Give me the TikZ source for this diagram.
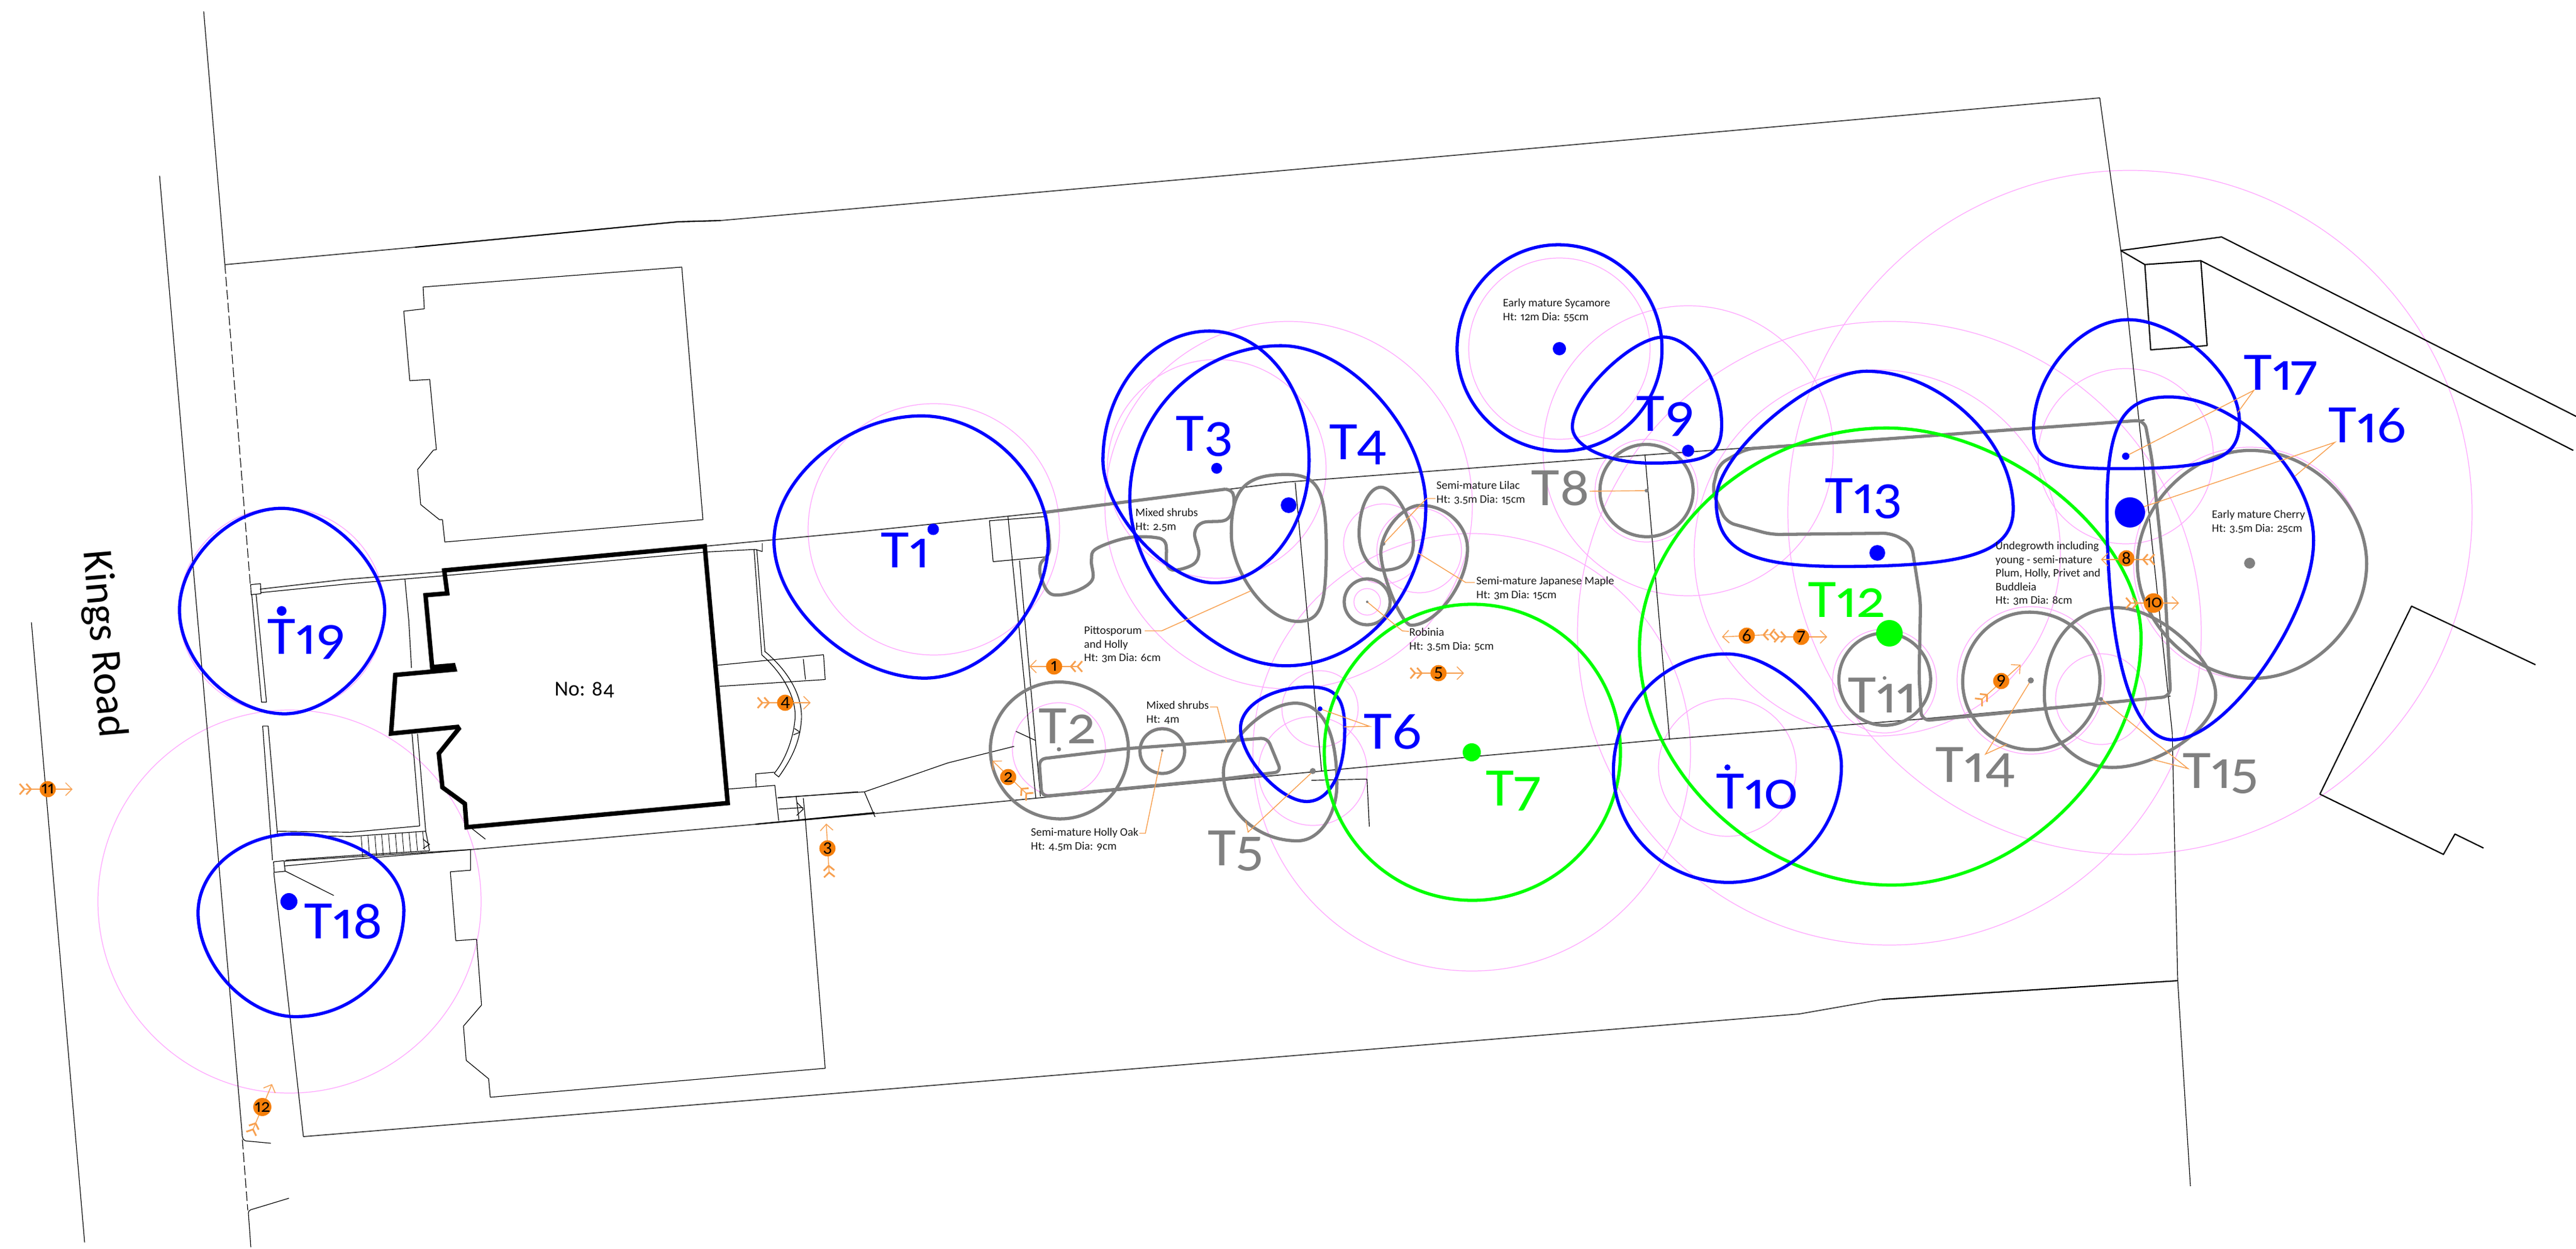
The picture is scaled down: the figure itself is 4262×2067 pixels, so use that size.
\documentclass[tikz,border=0pt]{standalone}
\usepackage{fontspec}
\setmainfont{Carlito}[Numbers={OldStyle,Proportional}]
\newfontfamily\treefont{Carlito}[Numbers={OldStyle,Proportional},FakeStretch=1.07]
\usetikzlibrary{arrows.meta}
\definecolor{tblue}{HTML}{0000FF}
\definecolor{tgreen}{HTML}{00FF00}
\definecolor{tgrey}{HTML}{808080}
\definecolor{tpink}{HTML}{FFA6FF}
\definecolor{mkor}{HTML}{F57F0A}
\definecolor{ldor}{HTML}{F7A050}
\tikzset{
  z1/.style={shift={(0,700)},x=0.009056cm,y=-0.008718cm},
  z2/.style={shift={(1250,500)},x=0.007653cm,y=-0.006378cm},
  z3/.style={shift={(2400,350)},x=0.008291cm,y=-0.007334cm},
  z4/.style={shift={(3300,350)},x=0.006135cm,y=-0.007015cm},
  thinl/.style={draw=black,line width=0.33pt,line join=round},
  medl/.style={draw=black,line width=0.6pt,line join=round},
  wall/.style={draw=black!75,line width=0.5pt,line join=round},
  house/.style={draw=black,line width=2.1pt,line join=miter},
  pinkc/.style={draw=tpink,line width=0.35pt},
  bluec/.style={draw=tblue,line width=1.5pt},
  greenc/.style={draw=tgreen,line width=1.5pt},
  greyc/.style={draw=tgrey,line width=1.5pt,line join=round},
  leader/.style={draw=ldor,line width=0.4pt,line join=miter},
  mkline/.style={draw=ldor,line width=0.4pt,
    arrows={{Straight Barb[reversed,length=2.2pt,width=5pt,line width=0.8pt,sep=-1.4pt]Straight Barb[reversed,length=2.2pt,width=5pt,line width=0.8pt]}-{Straight Barb[length=3pt,width=6pt]}}},
  mkdot/.style={circle,fill=mkor,inner sep=0pt,minimum size=7.6pt,text=black,font=\fontsize{8.6}{8.6}\selectfont},
  tlab/.style={anchor=base west,inner sep=0pt,font=\treefont\fontsize{25.5}{25.5}\selectfont},
  small/.style={anchor=north west,inner sep=0pt,align=left,text=black!90,font=\fontsize{5.4}{6.4}\selectfont},
}
\newcommand{\mk}[7]{%
  \coordinate (mt#1) at (#4,#5);\coordinate (mb#1) at (#6,#7);
  \draw[mkline] (mb#1) -- (mt#1);
  \node[mkdot] (m#1) at (#2,#3) {#1};}
\newcommand{\tl}[5]{\node[tlab,text=#2] (#1) at (#3,#4) {#5};}
\newcommand{\tdot}[4]{\fill[#1] (#2,#3) circle[radius=#4];}
% closed egg: extreme points top, right, bottom, left and a handle factor per quadrant
\def\blobdraw#1;#2,#3;#4,#5;#6,#7;#8,#9;{\def\blobstyle{#1}\def\Tx{#2}\def\Ty{#3}\def\Rx{#4}\def\Ry{#5}\def\Bx{#6}\def\By{#7}\def\Lx{#8}\def\Ly{#9}\blobfinish}
\def\blobfinish#1/#2/#3/#4!{%
  \draw[\blobstyle] (\Tx,\Ty)
   .. controls ({\Tx+#1*(\Rx-\Tx)},\Ty) and (\Rx,{\Ry-#1*(\Ry-\Ty)}) .. (\Rx,\Ry)
   .. controls (\Rx,{\Ry+#2*(\By-\Ry)}) and ({\Bx+#2*(\Rx-\Bx)},\By) .. (\Bx,\By)
   .. controls ({\Bx-#3*(\Bx-\Lx)},\By) and (\Lx,{\Ly+#3*(\By-\Ly)}) .. (\Lx,\Ly)
   .. controls (\Lx,{\Ly-#4*(\Ly-\Ty)}) and ({\Tx-#4*(\Tx-\Lx)},\Ty) .. (\Tx,\Ty) -- cycle;}
\begin{document}
\begin{tikzpicture}[x=0.01cm,y=-0.01cm]
\useasboundingbox (0,0) rectangle (4262,2067);
% ---- pink canopy circles
\foreach \cx/\cy/\r in {466/1010/170,479/1492/317,1545/876/208,2013/776/181,2132/836/304,
  2172/1276/90,2435/1245/362,2184/1173/63,1752/1240/77,1923/1242/38,2262/996/22,2289/900/66,
  2348/911/70,2580/577/150,2793/746/240,2724/812/85,2858/1270/114,3118/1127/86,3126/1048/516,
  3106/915/303,3360/1126/122,3476/1157/75,3524/848/566,3517/755/145,3722/932/192}
  \draw[pinkc] (\cx,\cy) circle[radius=\r];
% ---- site lines
\draw[thinl] (264,291) -- (299,700) -- (401,1881) .. controls (402,1885) and (403,1887) .. (406,1888) -- (448,1892);
\draw[thinl] (52,1030) -- (140,2056);
\draw[thinl] (337,19) -- (372,437);
\draw[thinl,dash pattern=on 4.5pt off 1.6pt] (372,437) -- (414,966);
\draw[thinl,dash pattern=on 4.5pt off 1.6pt] (401,1886) -- (410,2003);
\draw[thinl] (415,2064) -- (411,2008) .. controls (411,2004) and (413,2003) .. (415,2002) -- (478,1983);
\draw[wall] (372,438) -- (687,409);
\draw[medl] (687,409) -- (1122,367) -- (1192,365);
\draw[wall] (1192,365) -- (3474,162);
\draw[thinl] (3474,162) -- (3509,415) -- (3594,1213) -- (3599,1450) -- (3603,1623);
\draw[thinl] (3603,1623) -- (3624,1963);
\draw[medl] (3603,1623) -- (3114,1654);
\draw[wall] (3114,1654) -- (2977,1678) -- (1400,1808) -- (502,1881);
\draw[thinl] (502,1881) -- (453,1444);
% upper neighbour
\draw[thinl] (700,475) -- (1128,442) -- (1163,860) -- (736,897) -- (732,860) -- (727,860) -- (696,835) -- (691,777) -- (717,745) -- (722,744) -- (711,628) -- (678,630) -- (668,515) -- (702,511) -- cycle;
% boundary walls of the plot
\draw[wall] (430,975) -- (570,959) -- (735,946);
\draw[wall] (1166,904) -- (1420,880) -- (1728,848) -- (2126,798) -- (2722,753);
\draw[wall] (2722,753) -- (3548,695);
\draw[wall] (471,1425) -- (779,1406) -- (1420,1349) -- (1724,1320) -- (2450,1251) -- (2762,1223) -- (3179,1190) -- (3591,1152);
\draw[medl] (1250,1364) -- (1447,1345);
\begin{scope}[z1]
 \draw[thinl] (458,307) -- (476,305) -- (477,324) -- (459,326) -- cycle;
 \draw[thinl] (500,833) -- (519,831) -- (521,851) -- (501,853) -- cycle;
 \draw[thinl] (477,322) -- (640,305) -- (810,290) -- (1290,245) -- (1380,240);
 \draw[thinl] (1380,240) -- (1393,244) -- (1393,228);
 \draw[thinl] (740,297) -- (747,375) -- (752,465);
 \draw[thinl] (753,590) -- (767,765);
 \draw[thinl] (763,590) -- (778,775);
 \draw[thinl] (507,775) -- (640,777) -- (767,765);
 \draw[thinl] (507,782) -- (640,785) -- (778,775) -- (785,812);
 \foreach \s in {0,...,9} \draw[thinl,line width=0.25pt] ({660+\s*12.5},{785-\s*1}) -- ({663+\s*12.5},{825-\s*1.6});
 \draw[thinl] (522,830) -- (660,820) -- (785,812);
 \draw[thinl] (520,841) -- (660,827) -- (859,810);
 \draw[thinl] (460,325) -- (478,530) -- (487,530) -- (468,325);
 \draw[thinl] (480,575) -- (498,830);
 \draw[thinl] (490,575) -- (507,780);
 \draw[thinl] (480,575) -- (490,575);
 \draw[thinl] (1378,240) -- (1392,440);
 \draw[thinl] (1383,240) -- (1398,435);
 \draw[thinl] (1397,433) .. controls (1440,470) and (1470,520) .. (1464,570) .. controls (1460,610) and (1445,640) .. (1423,672) -- (1415,665) .. controls (1435,640) and (1450,600) .. (1453,560) .. controls (1455,520) and (1430,475) .. (1392,440);
 \draw[thinl] (1310,460) -- (1505,440) -- (1508,487) -- (1315,500);
 \draw[thinl] (1468,448) -- (1472,487);
 \draw[thinl] (1330,695) -- (1416,688) -- (1423,755);
 \draw[thinl] (1382,692) -- (1381,666) -- (1415,663);
 \draw[thinl] (1421,712) -- (1568,700);
 \draw[thinl] (1423,733) -- (1468,730);
 \draw[thinl] (1455,710) -- (1460,752);
 \draw[thinl] (1468,712) -- (1472,755) -- (1508,1225) -- (896,1280) -- (893,1245) -- (852,1210) -- (847,1145) -- (880,1105) -- (871,980) -- (833,983) -- (823,852) -- (860,849) -- (860,810);
 \draw[thinl] (1456,720) -- (1468,733) -- (1456,745);
 \draw[thinl] (773,790) -- (785,800) -- (773,808);
 \draw[thinl] (860,768) -- (887,790);
 \draw[thinl] (520,850) -- (610,897);
 \draw[thinl] (1452,580) -- (1462,587) -- (1450,592);
\end{scope}
\begin{scope}[z2]
 \draw[thinl] (505,567) -- (625,556) -- (632,660) -- (513,673) -- cycle;
 \draw[thinl] (545,556) -- (605,1285);
 \draw[thinl] (570,670) -- (615,1282);
 \draw[thinl] (48,1285) -- (235,1270) -- (258,1335);
 \draw[thinl] (235,1270) -- (415,1195) -- (558,1152);
 \draw[thinl] (562,1113) -- (605,1137);
 \draw[thinl] (1165,468) -- (1222,1216);
 \draw[thinl] (1200,1240) -- (1320,1237) -- (1325,1360);
\end{scope}
\begin{scope}[z3]
 \draw[thinl] (388,550) -- (437,1190);
\end{scope}
\begin{scope}[z4]
 \draw[medl] (340,92) -- (612,60) -- (1568,483);
 \draw[medl] (340,92) -- (405,125) -- (556,116) -- (1560,563);
 \draw[medl] (405,125) -- (421,326) -- (573,316) -- (556,116);
 \draw[medl] (1458,1068) -- (1124,930) -- (877,1373) -- (1210,1515) -- (1241,1467) -- (1318,1500);
\end{scope}
% No. 84
\draw[house] (735,944) -- (1166,904) -- (1204,1329) -- (772,1369) -- (769,1330) -- (732,1303) -- (726,1247) -- (759,1206) -- (757,1203) -- (647,1214) -- (654,1117) -- (752,1108) -- (750,1101) -- (715,1104) -- (704,985) -- (740,982) -- cycle;
% ---- grey outlines
\begin{scope}[z2]
 \blobdraw greyc;655,985;805,1160;658,1340;507,1160;.55/.55/.55/.55!
 \draw[greyc,rounded corners=3pt] (612,1185) -- (800,1158) -- (1000,1140) -- (1105,1130) -- (1135,1218) -- (1000,1238) -- (618,1282) -- cycle;
 \blobdraw greyc;1165,1040;1255,1250;1170,1397;1010,1220;.65/.55/.55/.42!
 \blobdraw greyc;1435,527;1537,640;1415,838;1350,650;.55/.45/.3/.45!
 \blobdraw greyc;1350,480;1420,625;1355,695;1303,600;.42/.65/.55/.55!
 \blobdraw greyc;1145,447;1232,640;1170,828;1027,600;.8/.8/.45/.75!
 \draw[greyc] plot[smooth,tension=0.6] coordinates {(1015,485)(1030,495)(1032,530)(1015,565)(965,572)(948,600)(957,650)(945,680)(905,695)(888,680)(885,625)(860,610)(800,612)(735,640)(725,670)(727,720)(690,750)(640,758)(618,720)(615,680)(635,640)(625,545)};
 \draw[greyc] (625,545) -- (800,518) -- (1015,485);
\end{scope}
\draw[greyc] (1923,1243) circle[radius=37];
\draw[greyc] (2262,996) circle[radius=38];
\begin{scope}[z3]
 \blobdraw greyc;390,525;484,630;392,733;298,630;.55/.55/.55/.55!
 \blobdraw greyc;866,950;958,1055;866,1158;775,1055;.55/.55/.55/.55!
 \blobdraw greyc;1155,903;1296,1055;1160,1213;1022,1060;.55/.55/.55/.55!
 \blobdraw greyc;1330,893;1527,1090;1320,1253;1185,1090;.42/.45/.55/.6!
 \draw[greyc,rounded corners=4pt] (1385,470) -- (840,515) -- (590,535) -- (535,570) -- (522,630) -- (550,700) -- (640,728) -- (880,725) -- (920,750) -- (938,880) -- (935,1050) -- (940,1148) -- (1437,1093) -- (1425,830) -- (1400,560) -- cycle;
\end{scope}
\begin{scope}[z4]
 \blobdraw greyc;690,563;1003,830;700,1100;385,830;.52/.52/.52/.52!
\end{scope}
% ---- blue and green outlines
\begin{scope}[z2]
 \blobdraw bluec;358,295;632,620;365,975;40,620;.52/.5/.48/.5!
 \blobdraw bluec;980,75;1195,410;990,728;750,410;.55/.55/.42/.55!
 \blobdraw bluec;1135,113;1447,530;1145,943;808,510;.47/.55/.48/.55!
 \blobdraw bluec;1195,998;1272,1110;1190,1295;1047,1105;.75/.6/.4/.55!
\end{scope}
\draw[greenc] (2436,1245) circle[radius=245];
\begin{scope}[z3]
 \blobdraw greenc;870,488;1378,960;880,1518;377,985;.48/.52/.52/.53!
 \blobdraw bluec;425,283;541,480;400,567;243,485;.5/.8/.55/.35!
 \blobdraw bluec;215,75;422,310;220,540;13,310;.55/.55/.55/.55!
 \blobdraw bluec;550,997;780,1250;555,1512;325,1260;.45/.55/.55/.55!
 \blobdraw bluec;830,360;1123,670;780,800;530,650;.5/.75/.75/.36!
\end{scope}
\begin{scope}[z4]
 \blobdraw bluec;360,255;660,495;330,606;105,510;.45/.8/.8/.5!
 \blobdraw bluec;470,437;860,775;480,1245;303,700;.47/.38/.62/.75!
\end{scope}
\begin{scope}[z1]
 \blobdraw bluec;540,780;738,925;540,1127;362,930;.55/.55/.5/.55!
 \blobdraw bluec;515,162;703,355;520,552;328,355;.45/.48/.5/.5!
\end{scope}
% ---- leaders
\draw[leader] (2173,1276) -- (2065,1377) -- (2061,1358);
\draw[leader] (2184,1173) -- (2266,1202) -- (2223,1203);
\draw[leader] (2724,812) -- (2630,813);
\draw[leader] (3360,1126) -- (3285,1248) -- (3320,1232);
\draw[leader] (3477,1157) -- (3620,1272) -- (3558,1256);
\draw[leader] (3528,845) -- (3863,732) -- (3797,788);
\draw[leader] (3517,755) -- (3729,646) -- (3702,683);
\draw[leader] (1894,1044) -- (1922,1044) -- (2069,978);
\draw[leader] (2262,996) -- (2320,1044) -- (2331,1045);
\draw[leader] (2289,900) -- (2360,825) -- (2375,825);
\draw[leader] (2346,915) -- (2425,964) -- (2440,964);
\draw[leader] (2002,1170) -- (2014,1170) -- (2029,1228);
\draw[leader] (1923,1243) -- (1895,1379) -- (1885,1379);
% ---- trunk dots
\tdot{tblue}{1544}{876}{9.5}
\tdot{tblue}{2013}{775}{9}
\tdot{tblue}{2132}{836}{13}
\tdot{tblue}{2184}{1173}{4}
\tdot{tgreen}{2435}{1245}{15}
\tdot{tblue}{2580}{577}{11}
\tdot{tblue}{2793}{746}{10}
\tdot{tblue}{2858}{1270}{5}
\tdot{tgrey}{3118}{1122}{3}
\tdot{tgreen}{3126}{1048}{22}
\tdot{tblue}{3106}{915}{13}
\tdot{tgrey}{3360}{1126}{5}
\tdot{tgrey}{3476}{1157}{3.5}
\tdot{tblue}{3524}{848}{25}
\tdot{tblue}{3517}{755}{6}
\tdot{tblue}{478}{1492}{14}
\tdot{tblue}{466}{1011}{8}
\tdot{tgrey}{3722}{932}{9}
\tdot{tgrey}{1752}{1240}{3.5}
\tdot{tgrey}{2172}{1276}{5}
\tdot{tgrey}{2724}{812}{3}
\tdot{tgrey}{2289}{900}{3}
\tdot{tgrey}{2262}{996}{2}
\tdot{tgrey}{1923}{1242}{2}
% ---- tree labels
\tl{t1}{tblue}{1457}{939}{T1}
\tl{t2}{tgrey}{1718}{1230}{T2}
\tl{t3}{tblue}{1945}{747}{T3}
\tl{t4}{tblue}{2199}{760}{T4}
\tl{t5}{tgrey}{1998}{1432}{T5}
\tl{t6}{tblue}{2256}{1239}{T6}
\tl{t7}{tgreen}{2458}{1333}{T7}
\tl{t8}{tgrey}{2533}{836}{T8}
\tl{t9}{tblue}{2707}{713}{T9}
\tl{t10}{tblue}{2839}{1338}{T10}
\tl{t11}{tgrey}{3057}{1179}{T11}
\tl{t12}{tgreen}{2991}{1021}{T12}
\tl{t13}{tblue}{3019}{850}{T13}
\tl{t14}{tgrey}{3202}{1294}{T14}
\tl{t15}{tgrey}{3611}{1304}{T15}
\tl{t16}{tblue}{3852}{732}{T16}
\tl{t17}{tblue}{3712}{646}{T17}
\tl{t18}{tblue}{503}{1553}{T18}
\tl{t19}{tblue}{442}{1082}{T19}
% ---- small notes
\node[small] (n1) at (1793,1036) {Pittosporum\\and Holly\\Ht: 3m Dia: 6cm};
\node[small] (n2) at (1878,841) {Mixed shrubs\\Ht: 2.5m};
\node[small] (n3) at (1896,1160) {Mixed shrubs\\Ht: 4m};
\node[small] (n4) at (1705,1370) {Semi-mature Holly Oak\\Ht: 4.5m Dia: 9cm};
\node[small] (n5) at (2331,1039) {Robinia\\Ht: 3.5m Dia: 5cm};
\node[small] (n6) at (2376,796) {Semi-mature Lilac\\Ht: 3.5m Dia: 15cm};
\node[small] (n7) at (2442,954) {Semi-mature Japanese Maple\\Ht: 3m Dia: 15cm};
\node[small] (n8) at (2486,494) {Early mature Sycamore\\Ht: 12m Dia: 55cm};
\node[small] (n9) at (3301,896) {Undegrowth including\\young - semi-mature\\Plum, Holly, Privet and\\Buddleia\\Ht: 3m Dia: 8cm};
\node[small] (n10) at (3659,844) {Early mature Cherry\\Ht: 3.5m Dia: 25cm};
\node[inner sep=0pt,font=\fontsize{10}{10}\selectfont] (no84) at (967,1142) {No: 84};
\node[inner sep=0pt,rotate=-85,font=\fontsize{20}{20}\selectfont] (road) at (170,1066) {Kings Road};
% ---- viewpoint markers
\mk{1}{1744}{1103}{1703}{1103}{1787}{1103}
\mk{2}{1668}{1286}{1642}{1259}{1701}{1316}
\mk{3}{1369}{1404}{1367}{1363}{1372}{1448}
\mk{4}{1299}{1163}{1341}{1163}{1257}{1163}
\mk{5}{2380}{1114}{2422}{1114}{2337}{1114}
\mk{6}{2890}{1052}{2849}{1054}{2933}{1050}
\mk{7}{2980}{1054}{3023}{1054}{2939}{1054}
\mk{8}{3518}{924}{3476}{926}{3561}{926}
\mk{9}{3311}{1127}{3343}{1100}{3276}{1160}
\mk{10}{3563}{998}{3605}{998}{3521}{998}
\mk{11}{79}{1306}{120}{1306}{36}{1306}
\mk{12}{434}{1832}{450}{1794}{417}{1873}
\end{tikzpicture}
\end{document}
